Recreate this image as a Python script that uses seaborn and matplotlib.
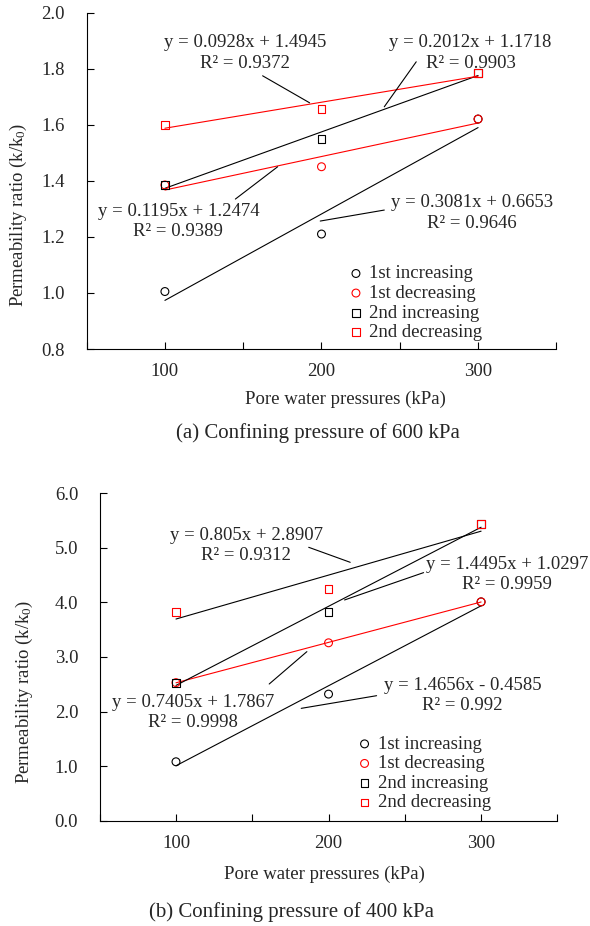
import matplotlib
matplotlib.use("Agg")
import matplotlib.pyplot as plt
import numpy as np
import seaborn as sns

sns.set_theme(style="ticks")
plt.rcParams["font.family"] = ["Liberation Serif", "DejaVu Serif"]
plt.rcParams["mathtext.fontset"] = "custom"
plt.rcParams["mathtext.rm"] = "Liberation Serif"
plt.rcParams["mathtext.it"] = "Liberation Serif:italic"
plt.rcParams["font.size"] = 13.5

# data
pressure = [100, 200, 300]
series = ["1st increasing", "1st decreasing", "2nd increasing", "2nd decreasing"]
markers = ["o", "o", "s", "s"]
point_colors = ["black", "red", "black", "red"]

# (a) confining pressure 600 kPa
a_1st_inc = [1.005, 1.21, 1.62]
a_1st_dec = [1.385, 1.45, 1.62]
a_2nd_inc = [1.385, 1.55, 1.785]
a_2nd_dec = [1.60, 1.655, 1.785]
a_slope = [0.3081, 0.1195, 0.2012, 0.0928]
a_icept = [0.6653, 1.2474, 1.1718, 1.4945]
a_r2 = ["0.9646", "0.9389", "0.9903", "0.9372"]
a_line_colors = ["black", "red", "black", "red"]

# (b) confining pressure 400 kPa
b_1st_inc = [1.08, 2.32, 4.01]
b_1st_dec = [2.53, 3.26, 4.01]
b_2nd_inc = [2.53, 3.82, 5.43]
b_2nd_dec = [3.82, 4.25, 5.43]
b_slope = [1.4656, 0.7405, 1.4495, 0.805]
b_icept = [-0.4585, 1.7867, 1.0297, 2.8907]
b_r2 = ["0.992", "0.9998", "0.9959", "0.9312"]
b_line_colors = ["black", "red", "black", "black"]

panels = [
    dict(
        values=[a_1st_inc, a_1st_dec, a_2nd_inc, a_2nd_dec],
        slope=a_slope, icept=a_icept, r2=a_r2, line_colors=a_line_colors,
        rect=[0.1468, 0.6231, 0.7962, 0.3634],
        ylim=(0.8, 2.0), yticks=np.arange(0.8, 2.01, 0.2),
        # label position, leader start, leader end (data units)
        text_pos=[(296.2, 1.2853), (108.6, 1.2539), (295.2, 1.8556), (151.0, 1.8556)],
        lead_from=[(240.1, 1.2955), (145.0, 1.3347), (260.5, 1.8242), (162.4, 1.7743)],
        lead_to=[(199.2, 1.2563), (172.0, 1.4499), (240.1, 1.6638), (192.4, 1.678)],
        legend_anchor=(0.5574, 0.2488),
        xlabel_pos=(0.5513, -0.1485), ylabel_pos=(-0.1443, 0.398),
        caption="(a) Confining pressure of 600 kPa", caption_pos=(0.5394, 0.532),
    ),
    dict(
        values=[b_1st_inc, b_1st_dec, b_2nd_inc, b_2nd_dec],
        slope=b_slope, icept=b_icept, r2=b_r2, line_colors=b_line_colors,
        rect=[0.169, 0.1137, 0.7757, 0.3536],
        ylim=(0.0, 6.0), yticks=np.arange(0, 6.01, 1.0),
        text_pos=[(287.7, 2.288), (111.0, 1.9888), (317.0, 4.518), (146.0, 5.0377)],
        lead_from=[(231.5, 2.291), (161.1, 2.505), (262.3, 4.546), (187.0, 5.010)],
        lead_to=[(182.1, 2.059), (185.8, 3.098), (210.5, 4.045), (214.2, 4.735)],
        legend_anchor=(0.5623, 0.2597),
        xlabel_pos=(0.4918, -0.164), ylabel_pos=(-0.1646, 0.394),
        caption="(b) Confining pressure of 400 kPa", caption_pos=(0.4947, 0.0148),
    ),
]

fig = plt.figure(figsize=(5.9, 9.26), dpi=100)

for p in panels:
    ax = fig.add_axes(p["rect"])

    # trend lines (Excel fit over point index 1..3)
    idx = np.arange(1, len(pressure) + 1)
    for m, b, c in zip(p["slope"], p["icept"], p["line_colors"]):
        sns.lineplot(x=pressure, y=m * idx + b, color=c, linewidth=0.8,
                     errorbar=None, legend=False, ax=ax)

    # measured points, hollow markers
    for name, vals, mk, col in zip(series, p["values"], markers, point_colors):
        sns.scatterplot(x=pressure, y=vals, marker=mk, s=32, color=col,
                        facecolor="none", edgecolor=col, linewidth=0.8,
                        label=name, ax=ax, zorder=3)

    # equations with leader lines
    for m, b, r2, tp, lf, lt in zip(p["slope"], p["icept"], p["r2"],
                                    p["text_pos"], p["lead_from"], p["lead_to"]):
        sign = "+" if b >= 0 else "-"
        label = f"y = {m:g}x {sign} {abs(b):g}\nR² = {r2}"
        ax.text(tp[0], tp[1], label, ha="center", va="center",
                fontsize=13.5, linespacing=1.25)
        ax.annotate("", xy=lt, xytext=lf,
                    arrowprops=dict(arrowstyle="-", color="black", lw=0.8,
                                    shrinkA=0, shrinkB=0))

    ax.set_xlim(50, 350)
    ax.set_ylim(*p["ylim"])
    ax.set_xticks(pressure)
    ax.set_xticks([50, 150, 250, 350], minor=True)
    ax.set_yticks(p["yticks"])
    ax.set_yticklabels([f"{v:.1f}" for v in p["yticks"]])
    ax.tick_params(axis="x", which="both", direction="in", length=5, width=0.8,
                   color="black", pad=10, labelsize=13.5)
    ax.tick_params(axis="y", which="major", direction="in", length=5, width=0.8,
                   color="black", pad=15.5, labelsize=13.5)
    sns.despine(ax=ax)
    for s in ["left", "bottom"]:
        ax.spines[s].set_color("black")
        ax.spines[s].set_linewidth(0.8)

    ax.set_xlabel("Pore water pressures (kPa)", fontsize=13.5, va="center")
    ax.xaxis.set_label_coords(*p["xlabel_pos"])
    ax.set_ylabel(r"Permeability ratio (k/k$_0$)", fontsize=13.5, va="center")
    ax.yaxis.set_label_coords(*p["ylabel_pos"])

    handles, labels = ax.get_legend_handles_labels()
    keep = [(h, l) for h, l in zip(handles, labels) if l in series]
    ax.legend([h for h, _ in keep], [l for _, l in keep], loc="upper left",
              bbox_to_anchor=p["legend_anchor"], frameon=False, borderpad=0,
              borderaxespad=0, handlelength=0.8, handletextpad=0.3,
              labelspacing=0.13, fontsize=13.5)

    fig.text(*p["caption_pos"], p["caption"], ha="center", va="center", fontsize=15)

fig.savefig("out.png", dpi=100)
